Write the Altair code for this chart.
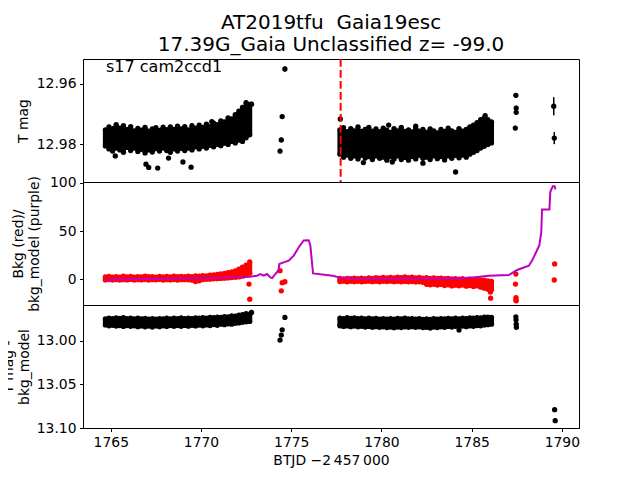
import altair as alt
import pandas as pd

# ---------------- data ----------------
T1 = [1764.7, 1764.9, 1765.1, 1765.3, 1765.5, 1765.7, 1765.9, 1766.1, 1766.3, 1766.5,
      1766.7, 1766.9, 1767.1, 1767.3, 1767.5, 1767.7, 1767.9, 1768.1, 1768.3, 1768.5,
      1768.7, 1768.9, 1769.1, 1769.3, 1769.5, 1769.7, 1769.9, 1770.1, 1770.3, 1770.5,
      1770.7, 1770.9, 1771.1, 1771.3, 1771.5, 1771.7, 1771.9, 1772.1, 1772.3, 1772.5, 1772.7]
T2 = [1777.7, 1777.9, 1778.1, 1778.3, 1778.5, 1778.7, 1778.9, 1779.1, 1779.3, 1779.5,
      1779.7, 1779.9, 1780.1, 1780.3, 1780.5, 1780.7, 1780.9, 1781.1, 1781.3, 1781.5,
      1781.7, 1781.9, 1782.1, 1782.3, 1782.5, 1782.7, 1782.9, 1783.1, 1783.3, 1783.5,
      1783.7, 1783.9, 1784.1, 1784.3, 1784.5, 1784.7, 1784.9, 1785.1, 1785.3, 1785.5,
      1785.7, 1785.9, 1786.1]

# T mag: upper / lower envelope of the dense light curve
TOP1_LO = [12.9752, 12.9742, 12.9748, 12.9735, 12.9746, 12.9738, 12.9750, 12.9741, 12.9755, 12.9747,
           12.9753, 12.9744, 12.9756, 12.9749, 12.9745, 12.9754, 12.9743, 12.9751, 12.9742, 12.9750,
           12.9740, 12.9749, 12.9741, 12.9752, 12.9738, 12.9746, 12.9736, 12.9744, 12.9733, 12.9741,
           12.9730, 12.9735, 12.9722, 12.9726, 12.9712, 12.9716, 12.9702, 12.9690, 12.9678, 12.9662, 12.9668]
TOP1_HI = [12.9805, 12.9815, 12.9822, 12.9812, 12.9818, 12.9826, 12.9810, 12.9820, 12.9812, 12.9823,
           12.9816, 12.9828, 12.9818, 12.9825, 12.9814, 12.9822, 12.9812, 12.9820, 12.9826, 12.9815,
           12.9822, 12.9813, 12.9820, 12.9812, 12.9818, 12.9808, 12.9815, 12.9806, 12.9812, 12.9803,
           12.9808, 12.9800, 12.9804, 12.9796, 12.9800, 12.9790, 12.9795, 12.9786, 12.9790, 12.9778, 12.9768]
TOP2_LO = [12.9752, 12.9745, 12.9758, 12.9748, 12.9755, 12.9742, 12.9757, 12.9750, 12.9744, 12.9756,
           12.9749, 12.9758, 12.9746, 12.9753, 12.9760, 12.9748, 12.9755, 12.9744, 12.9757, 12.9752,
           12.9759, 12.9747, 12.9756, 12.9750, 12.9760, 12.9749, 12.9755, 12.9762, 12.9750, 12.9757,
           12.9746, 12.9755, 12.9760, 12.9748, 12.9756, 12.9750, 12.9742, 12.9736, 12.9728, 12.9718,
           12.9712, 12.9718, 12.9726]
TOP2_HI = [12.9832, 12.9842, 12.9835, 12.9846, 12.9838, 12.9848, 12.9836, 12.9845, 12.9840, 12.9850,
           12.9838, 12.9846, 12.9842, 12.9852, 12.9840, 12.9848, 12.9838, 12.9850, 12.9843, 12.9852,
           12.9840, 12.9848, 12.9836, 12.9846, 12.9842, 12.9850, 12.9838, 12.9847, 12.9840, 12.9851,
           12.9838, 12.9846, 12.9836, 12.9844, 12.9835, 12.9842, 12.9832, 12.9826, 12.9820, 12.9812,
           12.9806, 12.9800, 12.9795]
TOP_OUT_T = [1765.25, 1766.95, 1767.1, 1767.6, 1768.2, 1769.0, 1769.45, 1770.6,
             1777.72, 1779.0, 1780.4, 1780.6, 1781.9, 1782.3, 1784.11, 1785.75]
TOP_OUT_M = [12.9838, 12.9865, 12.9876, 12.9878, 12.9845, 12.9858, 12.9875, 12.9725,
             12.9716, 12.9860, 12.9736, 12.9858, 12.9740, 12.9862, 12.9891, 12.9705]
TOP_ISO_T = [1772.8, 1774.38, 1774.45, 1774.5, 1774.65, 1787.45, 1787.47, 1787.47, 1787.42, 1789.55, 1789.58]
TOP_ISO_M = [12.9667, 12.9822, 12.9785, 12.9708, 12.9551, 12.9638, 12.9680, 12.9694, 12.9746, 12.9674, 12.9779]
TOP_ISO_E = [0.0008, 0.0008, 0.0008, 0.0008, 0.0008, 0.0008, 0.0008, 0.0008, 0.0008, 0.0030, 0.0020]
T_MARK = [1777.74]

# Background (red points) envelope
RED1_LO = [-0.9, -0.5, -1.0, -0.6, -1.1, -0.7, -0.9, -0.4, -1.0, -0.6,
           -0.9, -0.5, -1.1, -0.7, -0.8, -0.4, -1.0, -0.6, -0.9, -0.5,
           -1.0, -0.7, -0.6, -0.8, -1.2, -2.6, -1.8, -0.6, -0.3, -0.1,
           0.2, 0.4, 0.6, 0.9, 1.2, 1.5, 1.8, 2.2, 3.0, 4.5, 6.0]
RED1_HI = [2.2, 2.8, 2.0, 2.6, 2.1, 2.9, 2.3, 2.7, 2.0, 2.5,
           2.2, 2.9, 2.4, 2.6, 2.1, 2.8, 2.3, 2.7, 2.2, 3.0,
           2.4, 2.8, 2.5, 3.0, 2.6, 3.2, 3.0, 3.6, 3.4, 4.0,
           4.4, 4.8, 5.3, 5.8, 6.6, 7.4, 8.6, 10.2, 12.5, 14.5, 17.8]
RED2_LO = [-2.6, -2.2, -2.8, -2.4, -2.7, -2.3, -2.8, -2.5, -2.2, -2.7,
           -2.4, -2.8, -2.3, -2.6, -2.2, -2.7, -2.4, -2.8, -2.5, -2.9,
           -2.6, -3.0, -2.8, -3.4, -5.5, -6.0, -5.4, -6.2, -5.6, -6.8,
           -6.0, -7.2, -6.4, -7.0, -6.2, -7.4, -6.8, -7.8, -7.2, -8.5,
           -9.5, -10.5, -11.0]
RED2_HI = [0.6, 0.2, 0.8, 0.4, 0.9, 0.3, 1.0, 0.5, 1.2, 0.7,
           1.4, 0.9, 1.6, 1.1, 1.8, 1.3, 2.0, 1.5, 2.2, 1.4,
           1.9, 1.2, 1.7, 1.0, 1.5, 0.8, 1.2, 0.6, 1.0, 0.4,
           0.8, 0.2, 0.5, 0.0, 0.3, -0.3, 0.0, -0.6, -0.4, -1.0,
           -1.2, -1.8, -2.5]
RED_ISO_T = [1772.66, 1772.7, 1774.38, 1774.45, 1774.5, 1774.65, 1786.04, 1786.05,
             1787.45, 1787.43, 1787.46, 1787.45, 1787.47, 1789.6, 1789.58]
RED_ISO_V = [-5.2, -21.0, 8.7, -12.3, -3.8, -2.8, -13.5, -19.9,
             5.2, -5.2, -19.3, -21.5, -22.7, 15.7, -1.0]

# Background model (purple line)
BKG_T = [1764.7, 1765.5, 1766.5, 1767.5, 1768.5, 1769.5, 1770.5, 1771.5, 1772.3, 1772.7,
         1773.1, 1773.29, 1773.47, 1773.66, 1773.84, 1773.94, 1774.12, 1774.3, 1774.34, 1774.58,
         1774.86, 1775.14, 1775.42, 1775.69, 1775.97, 1776.06, 1776.21, 1777.3, 1777.82, 1778.5,
         1780.0, 1782.0, 1784.29, 1785.2, 1785.95, 1787.06, 1787.52, 1788.17, 1788.35, 1788.57,
         1788.75, 1788.86, 1788.9, 1789.31, 1789.36, 1789.5, 1789.6, 1789.64]
BKG_V = [-0.7, -0.4, 0.0, 0.3, 0.6, 0.9, 1.2, 1.6, 2.0, 2.4,
         3.5, 5.2, 3.5, 5.2, 1.7, 1.0, 5.2, 9.4, 15.7, 17.4,
         19.2, 24.4, 33.1, 40.1, 40.4, 34.9, 5.9, 3.5, 1.0, 0.7,
         0.6, 0.5, 0.5, 2.0, 3.5, 4.2, 9.4, 13.9, 19.2, 27.9,
         34.9, 48.8, 72.3, 72.3, 90.8, 96.7, 96.7, 93.3]

# T mag - bkg_model envelope
BOT1_LO = [12.9748, 12.9740, 12.9746, 12.9738, 12.9744, 12.9736, 12.9745, 12.9740, 12.9748, 12.9742,
           12.9750, 12.9743, 12.9751, 12.9746, 12.9752, 12.9745, 12.9750, 12.9742, 12.9748, 12.9740,
           12.9746, 12.9738, 12.9745, 12.9740, 12.9746, 12.9738, 12.9742, 12.9735, 12.9740, 12.9732,
           12.9736, 12.9728, 12.9732, 12.9724, 12.9726, 12.9716, 12.9718, 12.9706, 12.9700, 12.9690, 12.9695]
BOT1_HI = [12.9818, 12.9828, 12.9822, 12.9832, 12.9826, 12.9836, 12.9825, 12.9834, 12.9828, 12.9838,
           12.9830, 12.9840, 12.9832, 12.9842, 12.9830, 12.9838, 12.9828, 12.9836, 12.9826, 12.9835,
           12.9826, 12.9834, 12.9824, 12.9833, 12.9822, 12.9830, 12.9820, 12.9828, 12.9818, 12.9826,
           12.9814, 12.9822, 12.9810, 12.9816, 12.9806, 12.9810, 12.9800, 12.9795, 12.9788, 12.9782, 12.9778]
BOT2_LO = [12.9740, 12.9746, 12.9736, 12.9744, 12.9738, 12.9746, 12.9740, 12.9748, 12.9742, 12.9750,
           12.9744, 12.9752, 12.9746, 12.9753, 12.9745, 12.9752, 12.9744, 12.9750, 12.9742, 12.9748,
           12.9745, 12.9752, 12.9746, 12.9754, 12.9748, 12.9755, 12.9747, 12.9752, 12.9745, 12.9750,
           12.9744, 12.9750, 12.9742, 12.9748, 12.9740, 12.9745, 12.9738, 12.9742, 12.9735, 12.9738,
           12.9730, 12.9728, 12.9732]
BOT2_HI = [12.9828, 12.9836, 12.9830, 12.9838, 12.9832, 12.9840, 12.9834, 12.9842, 12.9836, 12.9845,
           12.9838, 12.9846, 12.9840, 12.9848, 12.9842, 12.9850, 12.9843, 12.9848, 12.9840, 12.9846,
           12.9838, 12.9845, 12.9840, 12.9848, 12.9845, 12.9855, 12.9842, 12.9848, 12.9840, 12.9846,
           12.9836, 12.9842, 12.9834, 12.9840, 12.9832, 12.9838, 12.9830, 12.9834, 12.9826, 12.9828,
           12.9820, 12.9815, 12.9810]
BOT_ISO_T = [1772.8, 1774.38, 1774.45, 1774.5, 1774.65, 1784.3,
             1787.45, 1787.46, 1787.47, 1787.48, 1789.6, 1789.63]
BOT_ISO_M = [12.9676, 12.9992, 12.9935, 12.9875, 12.9733, 12.9878,
             12.9725, 12.9760, 12.9810, 12.9845, 13.0790, 13.0916]

TITLE = ["AT2019tfu \u00a0Gaia19esc", "17.39G_Gaia Unclassified z= -99.0"]
LABEL = "s17 cam2ccd1"
X_TICKS = [1765, 1770, 1775, 1780, 1785, 1790]

# ---------------- helpers ----------------
def band(times_a, lo_a, hi_a, times_b, lo_b, hi_b):
    return pd.DataFrame({"t": times_a + times_b, "lo": lo_a + lo_b, "hi": hi_a + hi_b})

def band_pts(times_a, lo_a, hi_a, times_b, lo_b, hi_b):
    t = times_a + times_a + times_b + times_b
    v = lo_a + hi_a + lo_b + hi_b
    return pd.DataFrame({"t": t, "v": v})

FONT = "DejaVu Sans"
W, H = 496, 123
XSCALE = alt.Scale(domain=[1763.46, 1790.95], nice=False, zero=False)
PT = 28
BW = 5

def ax_y(values, fmt, title, tp):
    return alt.Axis(values=values, format=fmt, title=title, titlePadding=tp,
                    labelFlush=False, grid=False)

# ---------------- top panel ----------------
y_top = alt.Scale(domain=[12.9518, 12.9924], reverse=True, nice=False, zero=False)
top_band = band(T1, TOP1_LO, TOP1_HI, T2, TOP2_LO, TOP2_HI)
top_pts = band_pts(T1, TOP1_LO, TOP1_HI, T2, TOP2_LO, TOP2_HI)
top_out = pd.DataFrame({"t": TOP_OUT_T, "v": TOP_OUT_M})
top_iso = pd.DataFrame({"t": TOP_ISO_T, "v": TOP_ISO_M, "e": TOP_ISO_E})
top_iso["lo"] = top_iso["v"] - top_iso["e"]
top_iso["hi"] = top_iso["v"] + top_iso["e"]

yax_top = ax_y([12.96, 12.98], ".2f", "T mag", 6)

l1 = alt.Chart(top_band).mark_rule(color="black", strokeWidth=BW).encode(
    x=alt.X("t:Q", scale=XSCALE, axis=None),
    y=alt.Y("lo:Q", scale=y_top, axis=yax_top), y2="hi:Q")
l2 = alt.Chart(top_pts).mark_circle(color="black", size=PT, opacity=1).encode(
    x=alt.X("t:Q", scale=XSCALE, axis=None), y=alt.Y("v:Q", scale=y_top))
l3 = alt.Chart(top_out).mark_circle(color="black", size=PT, opacity=1).encode(
    x=alt.X("t:Q", scale=XSCALE, axis=None), y=alt.Y("v:Q", scale=y_top))
l4 = alt.Chart(top_iso).mark_rule(color="black", strokeWidth=1.5).encode(
    x=alt.X("t:Q", scale=XSCALE, axis=None), y=alt.Y("lo:Q", scale=y_top), y2="hi:Q")
l5 = alt.Chart(top_iso).mark_circle(color="black", size=PT, opacity=1).encode(
    x=alt.X("t:Q", scale=XSCALE, axis=None), y=alt.Y("v:Q", scale=y_top))
l6 = alt.Chart(pd.DataFrame({"t": T_MARK})).mark_rule(
    color="red", strokeWidth=2, strokeDash=[7.7, 3.3]).encode(
    x=alt.X("t:Q", scale=XSCALE, axis=None))
l7 = alt.Chart(pd.DataFrame({"s": [LABEL]})).mark_text(
    font=FONT, fontSize=16, align="left", baseline="alphabetic", color="black").encode(
    x=alt.value(23), y=alt.value(12.5), text="s:N")

top = alt.layer(l1, l2, l3, l4, l5, l6, l7).properties(
    width=W, height=H,
    title=alt.TitleParams(TITLE, font=FONT, fontSize=20, fontWeight="normal",
                          color="black", anchor="middle", frame="group",
                          lineHeight=22, offset=3))

# ---------------- middle panel ----------------
y_mid = alt.Scale(domain=[-27, 101], nice=False, zero=False)
red_band = band(T1, RED1_LO, RED1_HI, T2, RED2_LO, RED2_HI)
red_pts = band_pts(T1, RED1_LO, RED1_HI, T2, RED2_LO, RED2_HI)
red_iso = pd.DataFrame({"t": RED_ISO_T, "v": RED_ISO_V})
bkg = pd.DataFrame({"t": BKG_T, "v": BKG_V})

yax_mid = ax_y([0, 50, 100], "d", ["Bkg (red)/", "bkg_model (purple)"], 8)

m1 = alt.Chart(red_band).mark_rule(color="red", strokeWidth=BW).encode(
    x=alt.X("t:Q", scale=XSCALE, axis=None),
    y=alt.Y("lo:Q", scale=y_mid, axis=yax_mid), y2="hi:Q")
m2 = alt.Chart(red_pts).mark_circle(color="red", size=PT, opacity=1).encode(
    x=alt.X("t:Q", scale=XSCALE, axis=None), y=alt.Y("v:Q", scale=y_mid))
m3 = alt.Chart(red_iso).mark_circle(color="red", size=PT, opacity=1).encode(
    x=alt.X("t:Q", scale=XSCALE, axis=None), y=alt.Y("v:Q", scale=y_mid))
m4 = alt.Chart(bkg).mark_line(color="#bf00bf", strokeWidth=2).encode(
    x=alt.X("t:Q", scale=XSCALE, axis=None), y=alt.Y("v:Q", scale=y_mid), order="t:Q")

mid = alt.layer(m1, m2, m3, m4).properties(width=W, height=H)

# ---------------- bottom panel ----------------
y_bot = alt.Scale(domain=[12.959, 13.10], reverse=True, nice=False, zero=False)
bot_band = band(T1, BOT1_LO, BOT1_HI, T2, BOT2_LO, BOT2_HI)
bot_pts = band_pts(T1, BOT1_LO, BOT1_HI, T2, BOT2_LO, BOT2_HI)
bot_iso = pd.DataFrame({"t": BOT_ISO_T, "v": BOT_ISO_M})

yax_bot = ax_y([13.00, 13.05, 13.10], ".2f", ["T mag -", "bkg_model"], 5)
xax = alt.Axis(values=X_TICKS, format="d", title="BTJD \u22122\u2009457\u2009000",
               labelFlush=False, grid=False, titlePadding=5)

b1 = alt.Chart(bot_band).mark_rule(color="black", strokeWidth=BW).encode(
    x=alt.X("t:Q", scale=XSCALE, axis=xax),
    y=alt.Y("lo:Q", scale=y_bot, axis=yax_bot), y2="hi:Q")
b2 = alt.Chart(bot_pts).mark_circle(color="black", size=PT, opacity=1).encode(
    x=alt.X("t:Q", scale=XSCALE), y=alt.Y("v:Q", scale=y_bot))
b3 = alt.Chart(bot_iso).mark_circle(color="black", size=PT, opacity=1).encode(
    x=alt.X("t:Q", scale=XSCALE), y=alt.Y("v:Q", scale=y_bot))

bot = alt.layer(b1, b2, b3).properties(width=W, height=H)

chart = alt.vconcat(top, mid, bot, spacing=0, bounds="flush").resolve_scale(
    y="independent").properties(
    padding={"left": -8, "top": 4, "right": 5, "bottom": 5}
).configure_view(
    stroke="black", strokeWidth=1
).configure_axis(
    domainColor="black", tickColor="black", labelColor="black", titleColor="black",
    labelFont=FONT, titleFont=FONT, labelFontSize=13.9, titleFontSize=13.9,
    titleFontWeight="normal", tickSize=3.5, labelPadding=3.5, domainWidth=1, tickWidth=1
).configure_title(font=FONT)

chart.save("out.html", embed_options={"renderer": "svg", "actions": False})
